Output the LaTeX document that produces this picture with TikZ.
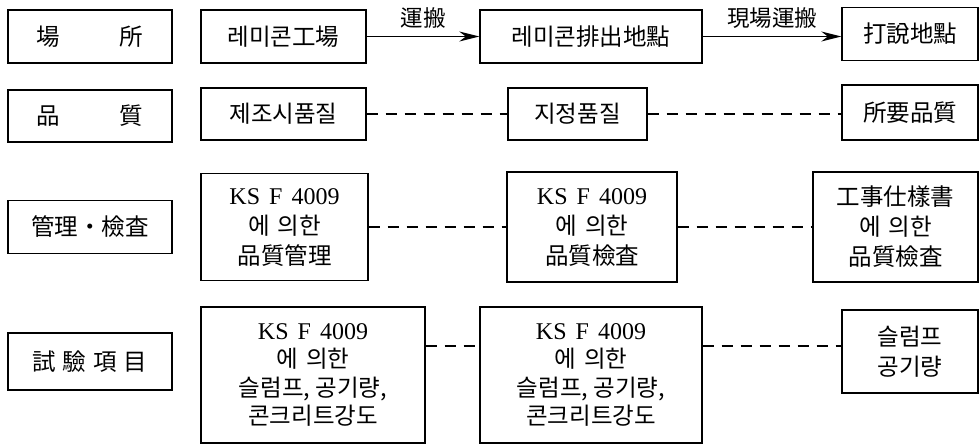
\documentclass[tikz,border=0pt]{standalone}
\usepackage{fontspec}
\setmainfont{Liberation Serif}
\newfontfamily\kr{Noto Sans CJK KR}
\usetikzlibrary{arrows.meta}
\newcommand{\ksline}{{\rmfamily\fontsize{24}{29}\selectfont KS\hspace{9pt}F\hspace{9pt}4009}}
\begin{document}
\begin{tikzpicture}[x=1pt,y=-1pt,
  box/.style={draw,line width=1.4pt,rectangle,inner sep=0pt,align=center,
    font={\fontsize{23.5}{30}\selectfont\kr}},
  flow/.style={line width=1.4pt,-{Stealth[length=20pt,width=10pt]}},
  link/.style={line width=1.4pt,dash pattern=on 11pt off 8pt},
  lbl/.style={font={\fontsize{22.5}{24}\selectfont\kr}}]
\useasboundingbox (0,0) rectangle (979,445);
% row 1
\node[box,minimum width=164pt,minimum height=53pt] (a1) at (90,36.5) {場\hspace{60pt}所};
\node[box,minimum width=165pt,minimum height=53pt] (a2) at (283.5,36.5) {레미콘工場};
\node[box,minimum width=222pt,minimum height=53pt] (a3) at (591,36.5) {레미콘排出地點};
\node[box,minimum width=136pt,minimum height=53pt] (a4) at (910,34) {打說地點};
% row 2
\node[box,minimum width=164pt,minimum height=52pt] (b1) at (90,116) {品\hspace{60pt}質};
\node[box,minimum width=165pt,minimum height=52pt] (b2) at (283.5,114) {제조시품질};
\node[box,minimum width=139pt,minimum height=52pt] (b3) at (577.5,114) {지정품질};
\node[box,minimum width=136pt,minimum height=55pt] (b4) at (910,112.5) {所要品質};
% row 3
\node[box,minimum width=164pt,minimum height=53pt] (c1) at (90,227) {管理・檢査};
\node[box,minimum width=167pt,minimum height=107pt] (c2) at (284.5,227) {\ksline\\에\hspace{8pt}의한\\品質管理};
\node[box,minimum width=170pt,minimum height=110pt] (c3) at (592,227) {\ksline\\에\hspace{8pt}의한\\品質檢査};
\node[box,minimum width=165pt,minimum height=110pt] (c4) at (895.5,227) {工事仕樣書\\에\hspace{8pt}의한\\品質檢査};
% row 4
\node[box,minimum width=164pt,minimum height=57pt] (d1) at (90,361.5) {試\hspace{7pt}驗\hspace{7pt}項\hspace{7pt}目};
\node[box,minimum width=224pt,minimum height=136pt,font={\fontsize{23.5}{28.5}\selectfont\kr}] (d2) at (313,375) {\ksline\\에\hspace{8pt}의한\\슬럼프,\ 공기량,\\콘크리트강도};
\node[box,minimum width=222pt,minimum height=136pt,font={\fontsize{23.5}{28.5}\selectfont\kr}] (d3) at (591,375) {\ksline\\에\hspace{8pt}의한\\슬럼프,\ 공기량,\\콘크리트강도};
\node[box,minimum width=136pt,minimum height=83pt] (d4) at (910,351.5) {슬럼프\\공기량};
\coordinate (dl) at (0,346);
% arrows
\draw[flow] (a2.east) -- (a3.west) node[lbl,midway,above=4pt] (t1) {運搬};
\draw[flow] (a3.east) -- (a3.east -| a4.west) node[lbl,midway,above=4pt] (t2) {現場運搬};
% dashed links
\draw[link] (b2.east) -- (b3.west);
\draw[link] (b3.east) -- (b3.east -| b4.west);
\draw[link] (c2.east) -- (c3.west);
\draw[link] (c3.east) -- (c4.west);
\draw[link] (d2.east |- dl) -- (d3.west |- dl);
\draw[link] (d3.east |- dl) -- (d4.west |- dl);
\end{tikzpicture}
\end{document}
